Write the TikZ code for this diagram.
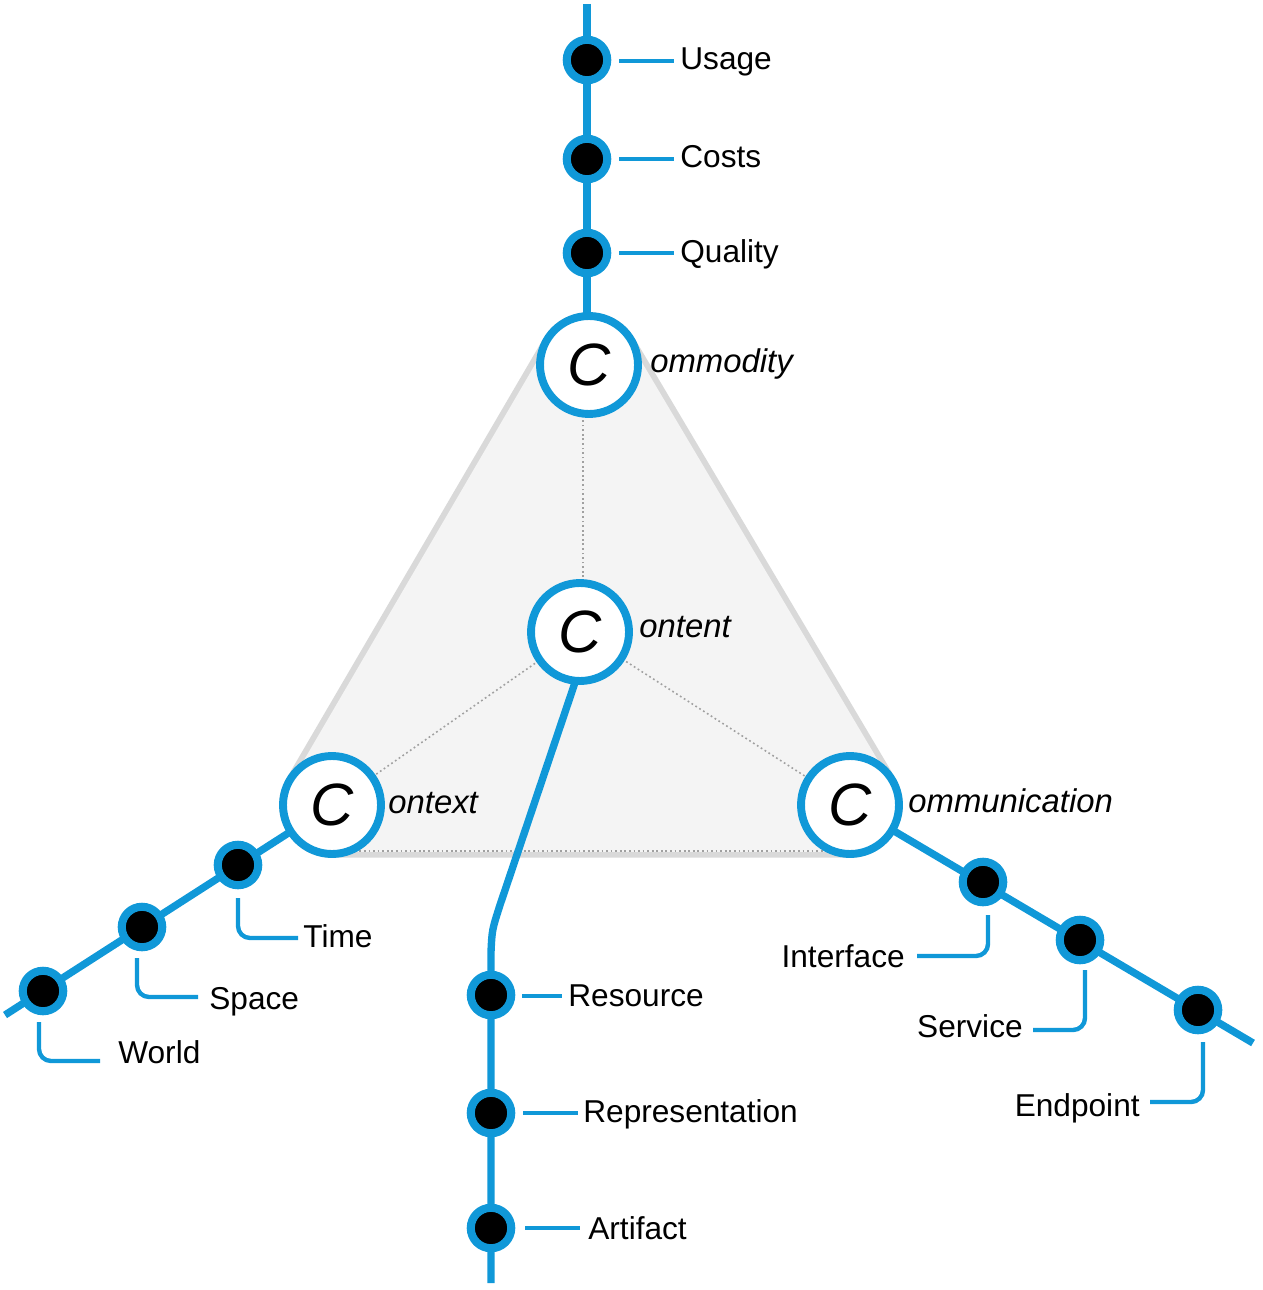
\documentclass[tikz,border=0pt]{standalone}
\usepackage{fontspec}
\setmainfont{Liberation Sans}
\usetikzlibrary{calc}
\definecolor{cblue}{RGB}{16,152,216}
\definecolor{tband}{RGB}{217,217,217}
\definecolor{tfill}{RGB}{244,244,244}
\definecolor{tdot}{RGB}{160,160,160}
\begin{document}
\begin{tikzpicture}[x=0.02cm,y=-0.02cm,
  arm/.style={draw=cblue,line width=4.2pt},
  lab/.style={draw=cblue,line width=2.5pt,rounded corners=0.24cm},
  bigc/.style={circle,draw=cblue,fill=white,line width=4.5pt,minimum size=1.96cm,inner sep=0pt,font=\fontsize{34}{34}\selectfont\itshape},
  dotn/.style={circle,draw=cblue,fill=black,line width=4.6pt,minimum size=0.81cm,inner sep=0pt},
  txt/.style={inner sep=0pt,font=\fontsize{18}{18}\selectfont},
  itx/.style={inner sep=0pt,font=\fontsize{18.7}{19}\selectfont\itshape},
  dotl/.style={draw=tdot,line width=0.9pt,dash pattern=on 1pt off 1.6pt}]
\useasboundingbox (0,0) rectangle (1262,1290);
\coordinate (pCom) at (589,365);
\coordinate (pCnt) at (580,632);
\coordinate (pCtx) at (332,805);
\coordinate (pCmm) at (850,805);
% triangle
\draw[tband,line width=60pt,line join=round] (pCom) -- (pCtx) -- (pCmm) -- cycle;
\filldraw[draw=tfill,fill=tfill,line width=53.3pt,line join=round] (pCom) -- (pCtx) -- (pCmm) -- cycle;
% dotted lines
\draw[dotl] ($(pCnt)+(3,0)$) -- ($(pCom)+(-6,0)$);
\draw[dotl] (pCnt) -- (pCtx);
\draw[dotl] (pCnt) -- (pCmm);
\draw[dotl] ($(pCtx)+(0,46)$) -- ($(pCmm)+(0,46)$);
% arms
\coordinate (topEnd) at (587,4);
\coordinate (lEnd) at (5,1015);
\coordinate (rEnd) at (1253,1043);
\coordinate (mTop) at (588,644);
\coordinate (mB1) at (500,905);
\coordinate (mCt) at (492,930);
\coordinate (mB2) at (491,952);
\coordinate (mEnd) at (491,1283);
\draw[arm] (topEnd) -- ($(pCom)+(-2,0)$);
\draw[arm] (pCtx) -- (lEnd);
\draw[arm] (pCmm) -- (rEnd);
\draw[arm] (mTop) -- (mB1) .. controls (mCt) .. (mB2) -- (mEnd);
% big circles
\node[bigc] (cCom) at (pCom) {C};
\node[bigc] (cCnt) at (pCnt) {C};
\node[bigc] (cCtx) at (pCtx) {C};
\node[bigc] (cCmm) at (pCmm) {C};
\node[itx,anchor=base west] (tCom) at (650,373) {ommodity};
\node[itx,anchor=base west] (tCnt) at (639,637) {ontent};
\node[itx,anchor=base west] (tCtx) at (388,813) {ontext};
\node[itx,anchor=base west] (tCmm) at (908,812) {ommunication};
% small nodes
\node[dotn] (nU) at (587,60) {};
\node[dotn] (nC) at (587,159) {};
\node[dotn] (nQ) at (587,253) {};
\node[dotn] (nR) at (491,995) {};
\node[dotn] (nRe) at (491,1113) {};
\node[dotn] (nA) at (491,1228) {};
\node[dotn] (nT) at (238,865) {};
\node[dotn] (nS) at (142,927) {};
\node[dotn] (nW) at (43,991) {};
\node[dotn] (nI) at (983,882) {};
\node[dotn] (nSe) at (1080,940) {};
\node[dotn] (nE) at (1198,1010) {};
% texts
\node[txt,anchor=base west] (tU) at (680,70) {Usage};
\node[txt,anchor=base west] (tC) at (680,168) {Costs};
\node[txt,anchor=base west] (tQ) at (680,263) {Quality};
\node[txt,anchor=base west] (tR) at (568,1006) {Resource};
\node[txt,anchor=base west] (tRe) at (583,1122) {Representation};
\node[txt,anchor=base west] (tA) at (588,1239) {Artifact};
\node[txt,anchor=base west] (tT) at (303,947) {Time};
\node[txt,anchor=base west] (tS) at (209,1009) {Space};
\node[txt,anchor=base west] (tW) at (118,1063) {World};
\node[txt,anchor=base east] (tI) at (905,967) {Interface};
\node[txt,anchor=base east] (tSe) at (1023,1037) {Service};
\node[txt,anchor=base east] (tE) at (1140,1116) {Endpoint};
% label connectors
\draw[lab] ($(nU)+(32,1)$) -- ($(tU.base west)+(-6,-9)$);
\draw[lab] ($(nC)+(32,0)$) -- ($(tC.base west)+(-6,-9)$);
\draw[lab] ($(nQ)+(32,0)$) -- ($(tQ.base west)+(-6,-10)$);
\draw[lab] ($(nR)+(31,1)$) -- ($(tR.base west)+(-6,-10)$);
\draw[lab] ($(nRe)+(32,0)$) -- ($(tRe.base west)+(-5,-9)$);
\draw[lab] ($(nA)+(34,0)$) -- ($(tA.base west)+(-8,-11)$);
\draw[lab] ($(nT)+(0,33)$) |- ($(tT.base west)+(-5,-9)$);
\draw[lab] ($(nS)+(-5,31)$) |- ($(tS.base west)+(-11,-12)$);
\draw[lab] ($(nW)+(-4,31)$) |- ($(tW.base west)+(-18,-2)$);
\draw[lab] ($(nI)+(5,33)$) |- ($(tI.base east)+(12,-11)$);
\draw[lab] ($(nSe)+(5,30)$) |- ($(tSe.base east)+(10,-7)$);
\draw[lab] ($(nE)+(5,32)$) |- ($(tE.base east)+(10,-14)$);
\end{tikzpicture}
\end{document}
